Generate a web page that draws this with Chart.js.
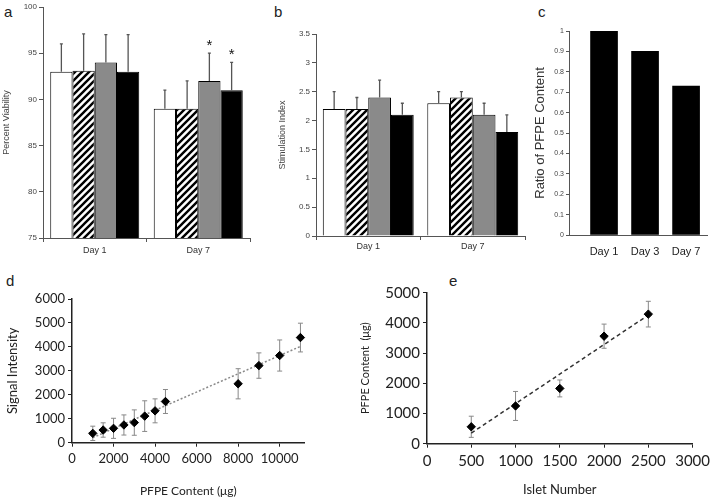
<!DOCTYPE html>
<html>
<head>
<meta charset="utf-8">
<script src="https://cdn.jsdelivr.net/npm/chart.js@4.4.1/dist/chart.umd.min.js"></script>
<style>
  body { margin: 0; background: #fff; width: 714px; height: 502px; position: relative; overflow: hidden; }
  canvas { position: absolute; }
  .tag { position: absolute; font: 15px "Liberation Sans", Arial, sans-serif; color: #222; }
</style>
</head>
<body>
<div class="tag" style="left:4px;top:3px">a</div>
<div class="tag" style="left:274px;top:3px">b</div>
<div class="tag" style="left:538px;top:3px">c</div>
<div class="tag" style="left:6px;top:272px">d</div>
<div class="tag" style="left:449px;top:272px">e</div>

<canvas id="viab" width="260" height="262" style="left:0;top:0"></canvas>
<canvas id="stim" width="275" height="262" style="left:260px;top:0"></canvas>
<canvas id="ratio" width="189" height="262" style="left:525px;top:0"></canvas>
<canvas id="signal" width="330" height="232" style="left:0;top:270px"></canvas>
<canvas id="islet" width="364" height="232" style="left:350px;top:270px"></canvas>

<script>
// panel a - percent viability
const viabDays = ['Day 1', 'Day 7']
const viabTicks = [75, 80, 85, 90, 95, 100]
const viabWhite = [93, 89]
const viabHatched = [93.1, 89]
const viabGray = [94, 92]
const viabBlack = [93, 91]
const viabWhiteErr = [3, 2]
const viabHatchedErr = [4, 3]
const viabGrayErr = [3, 3]
const viabBlackErr = [4, 3]
const viabGrayStar = [false, true]
const viabBlackStar = [false, true]

// panel b - stimulation index
const stimDays = ['Day 1', 'Day 7']
const stimTicks = [0, 0.5, 1, 1.5, 2, 2.5, 3, 3.5]
const stimWhite = [2.2, 2.3]
const stimHatched = [2.2, 2.4]
const stimGray = [2.4, 2.1]
const stimBlack = [2.1, 1.8]
const stimWhiteErr = [0.3, 0.2]
const stimHatchedErr = [0.2, 0.1]
const stimGrayErr = [0.3, 0.2]
const stimBlackErr = [0.2, 0.3]

// panel c - ratio of PFPE content
const ratioDays = ['Day 1', 'Day 3', 'Day 7']
const ratioTicks = [0, 0.1, 0.2, 0.3, 0.4, 0.5, 0.6, 0.7, 0.8, 0.9, 1]
const ratioValues = [1.0, 0.9, 0.73]

// panel d - signal intensity vs PFPE content
const signalXTicks = [0, 2000, 4000, 6000, 8000, 10000]
const signalYTicks = [0, 1000, 2000, 3000, 4000, 5000, 6000]
const signalX = [1000, 1500, 2000, 2500, 3000, 3500, 4000, 4500, 8000, 9000, 10000, 11000]
const signalY = [390, 530, 600, 740, 840, 1110, 1330, 1720, 2460, 3220, 3640, 4390]
const signalErr = [300, 300, 420, 420, 530, 640, 500, 500, 630, 530, 650, 600]
const signalFit = [{x: 1000, y: 210}, {x: 11000, y: 4020}]

// panel e - PFPE content vs islet number
const isletXTicks = [0, 500, 1000, 1500, 2000, 2500, 3000]
const isletYTicks = [0, 1000, 2000, 3000, 4000, 5000]
const isletX = [500, 1000, 1500, 2000, 2500]
const isletY = [560, 1250, 1830, 3560, 4290]
const isletErr = [350, 480, 280, 400, 425]
const isletFit = [{x: 500, y: 350}, {x: 2500, y: 4260}]

const topFont = '"Liberation Sans", Arial, sans-serif'
const lowFont = 'Lato, "Open Sans", sans-serif'

function stripes(ctx) {
    const c = document.createElement('canvas')
    c.width = 7; c.height = 7
    const g = c.getContext('2d')
    g.fillStyle = '#fff'
    g.fillRect(0, 0, 7, 7)
    g.strokeStyle = '#000'
    g.lineWidth = 2.4
    g.beginPath()
    g.moveTo(-2, 9); g.lineTo(9, -2)
    g.moveTo(-2, 2); g.lineTo(2, -2)
    g.moveTo(5, 9); g.lineTo(9, 5)
    g.stroke()
    return ctx.createPattern(c, 'repeat')
}

// fixed tick positions taken from the tick arrays
const useTicks = list => s => { s.ticks = list.map(v => ({value: v})) }
const plain = v => String(v)

// upper error whiskers (and significance stars) on bars
const barErrors = {
    id: 'barErrors',
    afterDatasetsDraw(chart) {
        const {ctx} = chart
        const y = chart.scales.y
        chart.data.datasets.forEach((ds, i) => {
            if (!ds.err) return
            chart.getDatasetMeta(i).data.forEach((bar, j) => {
                const top = y.getPixelForValue(ds.data[j] + ds.err[j])
                ctx.save()
                ctx.strokeStyle = '#555'
                ctx.lineWidth = 1.3
                ctx.beginPath()
                ctx.moveTo(bar.x, bar.y)
                ctx.lineTo(bar.x, top)
                ctx.moveTo(bar.x - 1.5, top)
                ctx.lineTo(bar.x + 1.5, top)
                ctx.stroke()
                if (ds.star && ds.star[j]) {
                    ctx.fillStyle = '#111'
                    ctx.font = '15px ' + topFont
                    ctx.textAlign = 'center'
                    ctx.fillText('*', bar.x, top - 3)
                }
                ctx.restore()
            })
        })
    }
}

// symmetric error bars on scatter points
const pointErrors = {
    id: 'pointErrors',
    beforeDatasetsDraw(chart) {
        const {ctx} = chart
        const x = chart.scales.x, y = chart.scales.y
        chart.data.datasets.forEach(ds => {
            if (!ds.err) return
            ds.data.forEach((p, j) => {
                const px = x.getPixelForValue(p.x)
                const hi = y.getPixelForValue(p.y + ds.err[j])
                const lo = y.getPixelForValue(p.y - ds.err[j])
                ctx.save()
                ctx.strokeStyle = '#888'
                ctx.lineWidth = 1
                ctx.beginPath()
                ctx.moveTo(px, hi); ctx.lineTo(px, lo)
                ctx.moveTo(px - 2.5, hi); ctx.lineTo(px + 2.5, hi)
                ctx.moveTo(px - 2.5, lo); ctx.lineTo(px + 2.5, lo)
                ctx.stroke()
                ctx.restore()
            })
        })
    }
}

Chart.defaults.animation = false
Chart.defaults.plugins.legend.display = false
Chart.defaults.plugins.tooltip.enabled = false
Chart.defaults.responsive = false

function groupedBars(id, labels, series, yOpts, sizes) {
    const el = document.getElementById(id)
    const ctx = el.getContext('2d')
    const fills = ['#fff', stripes(ctx), '#8a8a8a', '#000']
    return new Chart(ctx, {
        type: 'bar',
        data: {
            labels: labels,
            datasets: series.map((s, i) => ({
                data: s.values,
                err: s.err,
                star: s.star,
                backgroundColor: fills[i],
                borderColor: '#000',
                borderWidth: 1,
                borderSkipped: 'bottom',
                barPercentage: 1,
                categoryPercentage: sizes.cat
            }))
        },
        options: {
            layout: {padding: {top: sizes.top, right: sizes.right, left: 0, bottom: 0}},
            scales: {
                x: {
                    afterFit: s => { s.height = sizes.xh },
                    grid: {drawOnChartArea: false, offset: true, tickLength: 4, color: '#555'},
                    border: {color: '#555'},
                    ticks: {color: '#333', font: {family: topFont, size: 9}, padding: sizes.xpad}
                },
                y: Object.assign({
                    afterFit: s => { s.width = sizes.yw },
                    grid: {drawOnChartArea: false, tickLength: 4, color: '#555'},
                    border: {color: '#555'},
                    title: {display: true, text: sizes.title, color: '#444',
                        font: {family: topFont, size: 9}, padding: {top: sizes.tpad, bottom: 0}}
                }, yOpts)
            }
        },
        plugins: [barErrors]
    })
}

groupedBars('viab', viabDays, [
    {values: viabWhite, err: viabWhiteErr},
    {values: viabHatched, err: viabHatchedErr},
    {values: viabGray, err: viabGrayErr, star: viabGrayStar},
    {values: viabBlack, err: viabBlackErr, star: viabBlackStar}
], {
    min: 75, max: 100,
    afterBuildTicks: useTicks(viabTicks),
    ticks: {callback: plain, color: '#444', font: {family: topFont, size: 8}, padding: 2}
}, {cat: 0.86, top: 7, right: 10, xh: 24, yw: 43, xpad: 3, title: 'Percent Viability', tpad: 1})

groupedBars('stim', stimDays, [
    {values: stimWhite, err: stimWhiteErr},
    {values: stimHatched, err: stimHatchedErr},
    {values: stimGray, err: stimGrayErr},
    {values: stimBlack, err: stimBlackErr}
], {
    min: 0, max: 3.5,
    afterBuildTicks: useTicks(stimTicks),
    ticks: {callback: plain, color: '#444', font: {family: topFont, size: 8}, padding: 2}
}, {cat: 0.87, top: 34, right: 10, xh: 26, yw: 56, xpad: 1, title: 'Stimulation Index', tpad: 17})

// panel c uses a linear x so the bars can sit where the original puts them
new Chart(document.getElementById('ratio'), {
    type: 'bar',
    data: {
        datasets: [{
            data: ratioValues.map((v, i) => ({x: i + 1, y: v})),
            backgroundColor: '#000',
            barThickness: 27
        }]
    },
    options: {
        layout: {padding: {top: 31, right: 7, left: 0, bottom: 0}},
        scales: {
            x: {
                type: 'linear', offset: false, min: 0.146, max: 3.51,
                afterFit: s => { s.height = 27 },
                afterBuildTicks: s => { s.ticks = ratioDays.map((d, i) => ({value: i + 1})) },
                grid: {drawOnChartArea: false, drawTicks: false},
                border: {color: '#555'},
                ticks: {callback: v => ratioDays[v - 1], color: '#222', font: {family: topFont, size: 11}, padding: 10}
            },
            y: {
                min: 0, max: 1,
                afterFit: s => { s.width = 44 },
                afterBuildTicks: useTicks(ratioTicks),
                grid: {drawOnChartArea: false, tickLength: 3, color: '#555'},
                border: {color: '#555'},
                ticks: {callback: plain, color: '#444', font: {family: topFont, size: 7}, padding: 2},
                title: {display: true, text: 'Ratio of PFPE Content', color: '#333',
                    font: {family: topFont, size: 13}, padding: {top: 8, bottom: 0}}
            }
        }
    }
})

function fitScatter(id, xs, ys, errs, fit, xTicks, yTicks, sizes) {
    return new Chart(document.getElementById(id), {
        type: 'scatter',
        data: {
            datasets: [{
                data: xs.map((x, i) => ({x: x, y: ys[i]})),
                err: errs,
                clip: false,
                pointStyle: 'rectRot',
                pointRadius: 4.2,
                backgroundColor: '#000',
                borderColor: '#000'
            }, {
                data: fit,
                showLine: true,
                pointRadius: 0,
                borderColor: sizes.lineColor,
                borderWidth: 1.5,
                borderDash: sizes.dash
            }]
        },
        options: {
            layout: {padding: {top: sizes.top, right: sizes.right, left: 0, bottom: 0}},
            scales: {
                x: {
                    min: 0, max: sizes.xmax,
                    afterFit: s => { s.height = sizes.xh },
                    afterBuildTicks: useTicks(xTicks),
                    grid: {drawOnChartArea: false, tickLength: 4, color: '#222'},
                    border: {color: '#222', width: 1.5},
                    ticks: {callback: plain, maxRotation: 0, autoSkip: false, color: '#222',
                        font: {family: lowFont, size: sizes.tick}, padding: 4},
                    title: {display: true, text: sizes.xtitle, color: '#222',
                        font: {family: lowFont, size: sizes.xtsize}, padding: {top: 0, bottom: 4}}
                },
                y: {
                    min: 0, max: sizes.ymax,
                    afterFit: s => { s.width = sizes.yw },
                    afterBuildTicks: useTicks(yTicks),
                    grid: {drawOnChartArea: false, tickLength: 4, color: '#222'},
                    border: {color: '#222', width: 1.5},
                    ticks: {callback: plain, color: '#222', font: {family: lowFont, size: sizes.tick}, padding: 3},
                    title: {display: true, text: sizes.ytitle, color: '#222',
                        font: {family: lowFont, size: sizes.ytsize}, padding: {top: sizes.ytpad, bottom: 0}}
                }
            }
        },
        plugins: [pointErrors]
    })
}

fitScatter('signal', signalX, signalY, signalErr, signalFit, signalXTicks, signalYTicks, {
    xmax: 11200, ymax: 6000, top: 29, right: 25.4, xh: 59.3, yw: 72,
    tick: 13, xtitle: 'PFPE Content (\u03bcg)', xtsize: 12, ytitle: 'Signal Intensity', ytsize: 13, ytpad: 5,
    lineColor: '#888', dash: [2, 2]
})

fitScatter('islet', isletX, isletY, isletErr, isletFit, isletXTicks, isletYTicks, {
    xmax: 3000, ymax: 5000, top: 22.7, right: 20.4, xh: 58.3, yw: 77,
    tick: 15, xtitle: 'Islet Number', xtsize: 13, ytitle: 'PFPE Content  (\u03bcg)', ytsize: 11, ytpad: 9,
    lineColor: '#333', dash: [4, 3]
})
</script>
</body>
</html>
